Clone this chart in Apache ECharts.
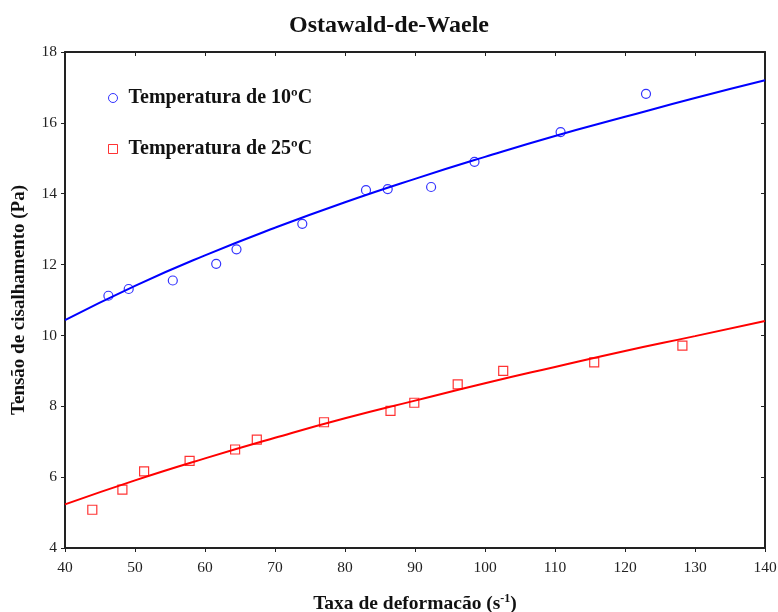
<!DOCTYPE html>
<html>
<head>
<meta http-equiv="Content-Type" content="text/html; charset=utf-8">
<title>Ostawald-de-Waele</title>
<script type="text/javascript" src="https://cdn.jsdelivr.net/npm/echarts@6/dist/echarts.min.js"></script>
<style>
	html, body { margin: 0; padding: 0; background: #fff; }
	#chart { width: 778px; height: 612px; }
</style>
</head>
<body>
	<div id="chart"></div>
	<script type="text/javascript">

		// pontos medidos (taxa de deformacão, tensão)
		var x10 = [46.2, 49.1, 55.4, 61.6, 64.5, 73.9, 83.0, 86.1, 92.3, 98.5, 110.8, 123.0];
		var y10 = [11.12, 11.31, 11.55, 12.02, 12.43, 13.15, 14.10, 14.13, 14.19, 14.90, 15.74, 16.82];
		var x25 = [43.9, 48.2, 51.3, 57.8, 64.3, 67.4, 77.0, 86.5, 89.9, 96.1, 102.6, 115.6, 128.2];
		var y25 = [5.08, 5.65, 6.16, 6.46, 6.78, 7.06, 7.55, 7.87, 8.10, 8.62, 9.00, 9.24, 9.71];

		// curvas ajustadas
		var xFit = [40, 50, 60, 70, 80, 90, 100, 110, 120, 130, 140];
		var yFit10 = [10.43, 11.40, 12.26, 13.04, 13.76, 14.42, 15.04, 15.63, 16.17, 16.70, 17.20];
		var yFit25 = [5.23, 5.91, 6.53, 7.11, 7.66, 8.16, 8.65, 9.11, 9.56, 9.98, 10.41];

		function pares(xs, ys) {
			var out = [];
			for (var i = 0; i < xs.length; i++) out.push([xs[i], ys[i]]);
			return out;
		}

		var serif = '"Liberation Serif", "Times New Roman", serif';

		var option = {
			animation : false,
			title : {
				text : 'Ostawald-de-Waele',
				left : 'center',
				top : 9,
				textStyle : { fontFamily : serif, fontSize : 24, fontWeight : 'bold', color : '#111' }
			},
			legend : {
				orient : 'vertical',
				left : 103,
				top : 83,
				itemGap : 31,
				itemWidth : 9,
				itemHeight : 9,
				itemStyle : { borderWidth : 1 },
				data : [ 'Temperatura de 10ºC', 'Temperatura de 25ºC' ],
				textStyle : { fontFamily : serif, fontSize : 20, fontWeight : 'bold', color : '#111', padding : [0, 0, 0, 6] }
			},
			grid : { left : 65, right : 13, top : 52, bottom : 64, containLabel : false, outerBoundsMode : 'none' },
			xAxis : [ {
				type : 'value',
				min : 40, max : 140, interval : 10,
				name : 'Taxa de deformacão (s{sup|-1})',
				nameLocation : 'middle',
				nameGap : 45,
				nameTextStyle : {
					fontFamily : serif, fontSize : 19.5, fontWeight : 'bold', color : '#111',
					rich : { sup : { fontFamily : serif, fontSize : 12, fontWeight : 'bold', verticalAlign : 'top', padding : [0, 0, 10, 0] } }
				},
				axisLine : { onZero : false, lineStyle : { color : '#222', width : 2 } },
				axisTick : { length : 4, lineStyle : { color : '#222' } },
				axisLabel : { fontFamily : serif, fontSize : 15.5, color : '#222', margin : 12 },
				splitLine : { show : false }
			}, {
				type : 'value', position : 'top',
				min : 40, max : 140, interval : 10,
				axisLine : { onZero : false, lineStyle : { color : '#222', width : 2 } },
				axisTick : { inside : true, length : 4, lineStyle : { color : '#222' } },
				axisLabel : { show : false },
				splitLine : { show : false }
			} ],
			yAxis : [ {
				type : 'value',
				min : 4, max : 18, interval : 2,
				name : 'Tensão de cisalhamento (Pa)',
				nameLocation : 'middle',
				nameGap : 36,
				nameTextStyle : { fontFamily : serif, fontSize : 19, fontWeight : 'bold', color : '#111' },
				axisLine : { onZero : false, lineStyle : { color : '#222', width : 2 } },
				axisTick : { length : 4, lineStyle : { color : '#222' } },
				axisLabel : { fontFamily : serif, fontSize : 15.5, color : '#222', margin : 8 },
				splitLine : { show : false }
			}, {
				type : 'value', position : 'right',
				min : 4, max : 18, interval : 2,
				axisLine : { onZero : false, lineStyle : { color : '#222', width : 2 } },
				axisTick : { inside : true, length : 4, lineStyle : { color : '#222' } },
				axisLabel : { show : false },
				splitLine : { show : false }
			} ],
			series : [ {
				name : 'ajuste 10',
				type : 'line',
				smooth : true,
				showSymbol : false,
				lineStyle : { color : '#0000ff', width : 2 },
				data : pares(xFit, yFit10),
				z : 2
			}, {
				name : 'ajuste 25',
				type : 'line',
				smooth : true,
				showSymbol : false,
				lineStyle : { color : '#ff0000', width : 2 },
				data : pares(xFit, yFit25),
				z : 2
			}, {
				name : 'Temperatura de 10ºC',
				type : 'scatter',
				symbol : 'circle',
				symbolSize : 9,
				itemStyle : { color : 'transparent', borderColor : '#0000ff', borderWidth : 1.2 },
				data : pares(x10, y10),
				z : 3
			}, {
				name : 'Temperatura de 25ºC',
				type : 'scatter',
				symbol : 'rect',
				symbolSize : 9,
				itemStyle : { color : 'transparent', borderColor : '#ff0000', borderWidth : 1.2 },
				data : pares(x25, y25),
				z : 3
			} ]
		};

		var chart = echarts.init(document.getElementById('chart'));
		chart.setOption(option);
	</script>
</body>
</html>
